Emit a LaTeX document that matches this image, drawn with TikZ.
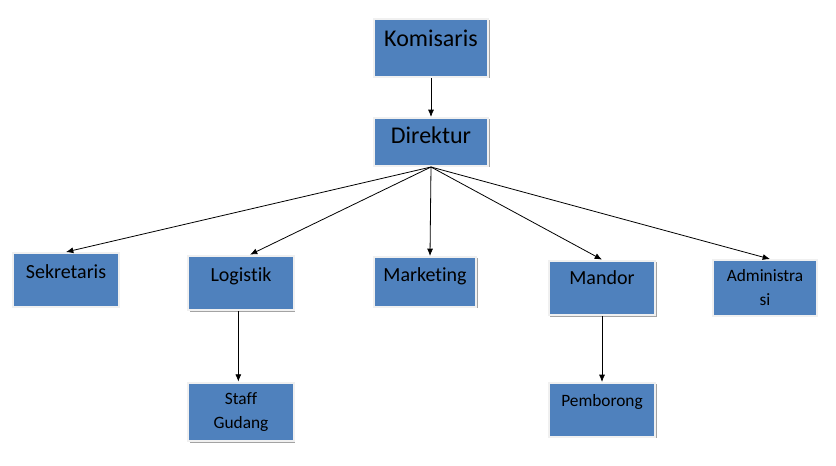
\documentclass[tikz,border=0pt]{standalone}
\usepackage{fontspec}
\setmainfont{Carlito}[Ligatures = NoCommon]
\usetikzlibrary{shadows, arrows.meta}
\definecolor{boxblue}{RGB}{79,129,189}
\tikzset{
	orgbox/.style = {draw = gray!12, line width = 1.5pt, fill = boxblue, inner sep = 2pt,
		drop shadow = {shadow xshift = 1pt, shadow yshift = -1pt, fill = black!60, opacity = 0.6}},
	bigbox/.style = {orgbox, font = \fontsize{18}{20}\selectfont},
	midbox/.style = {orgbox, font = \fontsize{15}{18}\selectfont},
	smallbox/.style = {orgbox, font = \fontsize{13}{18}\selectfont, align = center},
	textup/.style = {text height = 10pt, text depth = #1},
	conn/.style = {-{Latex[length = 5.5pt, width = 4.5pt]}, line width = 0.6pt}
}
\begin{document}
\begin{tikzpicture}[x = 0.75pt, y = -0.75pt]
	\useasboundingbox (0,0) rectangle (836,465);
	\node[bigbox, textup = 12pt, minimum width = 86pt, minimum height = 43.5pt] (kom) at (431,48) {Komisaris};
	\node[bigbox, textup = 7.5pt, minimum width = 86pt, minimum height = 36pt] (dir) at (431,142) {Direktur};
	\node[midbox, textup = 12pt, minimum width = 79pt, minimum height = 40.5pt] (sek) at (66,280) {Sekretaris};
	\node[midbox, textup = 12pt, minimum width = 79pt, minimum height = 41pt] (log) at (241,283) {Logistik};
	\node[midbox, textup = 10.5pt, minimum width = 77pt, minimum height = 37.5pt] (mkt) at (425,282) {Marketing};
	\node[midbox, textup = 15pt, minimum width = 80pt, minimum height = 41pt] (man) at (602,288) {Mandor};
	\node[smallbox, minimum width = 78pt, minimum height = 42pt] (adm) at (765,288) {Administra\\si};
	\node[smallbox, minimum width = 79pt, minimum height = 44pt] (stf) at (241,412) {Staff\\Gudang};
	\node[smallbox, textup = 15pt, minimum width = 80pt, minimum height = 40.5pt] (pem) at (602,410) {Pemborong};
	\draw[conn] (kom) -- (dir);
	\draw[conn] (dir.south) -- (sek.north);
	\draw[conn] (dir.south) -- ([xshift = 6.75pt]log.north);
	\draw[conn] (dir.south) -- ([xshift = 3.75pt]mkt.north);
	\draw[conn] (dir.south) -- (man.north);
	\draw[conn] (dir.south) -- ([xshift = 3.75pt]adm.north);
	\draw[conn] ([xshift = -2pt]log.south) -- ([xshift = -2pt]stf.north);
	\draw[conn] (man) -- (pem);
\end{tikzpicture}
\end{document}
